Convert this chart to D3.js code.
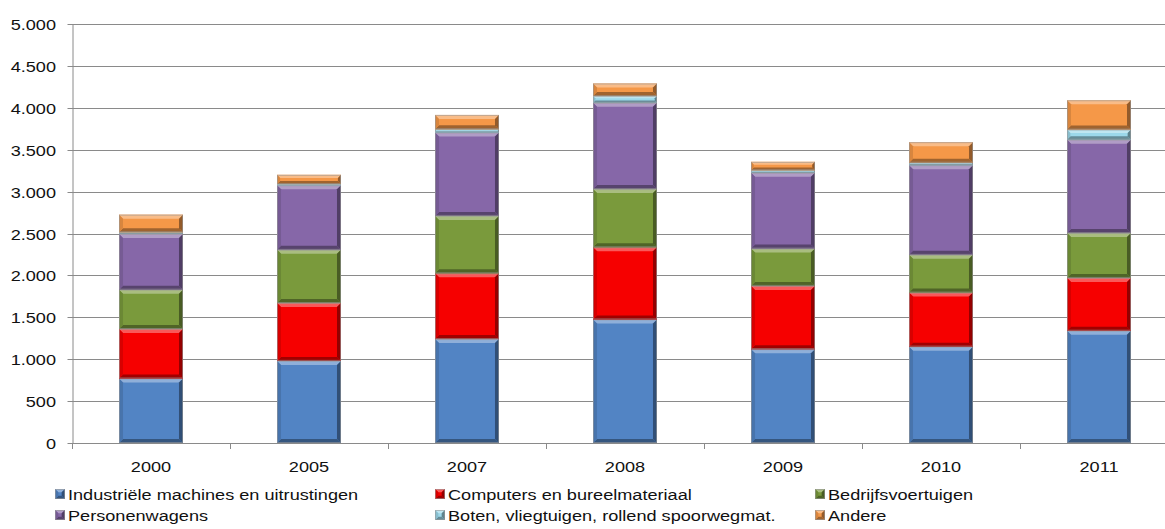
<!DOCTYPE html>
<html>
<head>
<meta charset="utf-8">
<script src="https://cdn.jsdelivr.net/npm/d3@7"></script>
<style>
  html, body { margin: 0; padding: 0; background: #ffffff; }
  svg { display: block; }
  svg text { font-family: "Liberation Sans", Arial, sans-serif; font-weight: normal; }
</style>
</head>
<body>
<svg id="chart" width="1165" height="529"></svg>
<script>
// Investeringen per jaar, opgesplitst naar type goed
const years = ["2000", "2005", "2007", "2008", "2009", "2010", "2011"];
const industrie   = [770, 980, 1240, 1475, 1120, 1150, 1340];
const computers   = [590, 690, 785, 860, 755, 645, 630];
const bedrijfsvt  = [470, 635, 685, 695, 445, 450, 535];
const personenw   = [665, 770, 995, 1030, 905, 1070, 1115];
const boten       = [20, 15, 40, 80, 30, 30, 120];
const andere      = [210, 110, 170, 150, 100, 245, 350];
const seriesNames = [
  "Industriële machines en uitrustingen",
  "Computers en bureelmateriaal",
  "Bedrijfsvoertuigen",
  "Personenwagens",
  "Boten, vliegtuigen, rollend spoorwegmat.",
  "Andere"
];
const seriesKeys = ["ind", "comp", "bedr", "pers", "boot", "and"];
const yTicks = [0, 500, 1000, 1500, 2000, 2500, 3000, 3500, 4000, 4500, 5000];

const colors = ["#5284C4", "#F60000", "#7A9A3C", "#8667A8", "#9CD8EA", "#F59848"];

const rows = years.map((yr, i) => ({
  year: yr, ind: industrie[i], comp: computers[i], bedr: bedrijfsvt[i],
  pers: personenw[i], boot: boten[i], and: andere[i]
}));

const svg = d3.select("#chart");
const plotLeft = 72, plotRight = 1178, plotTop = 24, plotBottom = 443;
const sx = 1.17; // horizontal text stretch
const fontSize = 15.5;
const FONT = "'Liberation Sans', Arial, sans-serif";

const x = d3.scaleBand().domain(years).range([plotLeft, plotRight])
  .paddingInner(0.595).paddingOuter(0.2975);
const y = d3.scaleLinear().domain([0, 5000]).range([plotBottom, plotTop]);

const nl = d3.formatLocale({ decimal: ",", thousands: ".", grouping: [3], currency: ["€", ""] });
const fmt = nl.format(",d");

// gridlines
svg.append("g").selectAll("line").data(yTicks).join("line")
  .attr("x1", plotLeft).attr("x2", 1165)
  .attr("y1", d => Math.round(y(d)) + 0.5).attr("y2", d => Math.round(y(d)) + 0.5)
  .attr("stroke", "#8a8a8a").attr("stroke-width", 1);

// y axis
const yAxis = svg.append("g").attr("transform", `translate(${plotLeft + 0.5},0)`)
  .call(d3.axisLeft(y).tickValues(yTicks).tickFormat(fmt).tickSize(5).tickSizeOuter(0))
  .attr("font-family", FONT).attr("font-size", fontSize);
yAxis.select(".domain").attr("stroke", "#8a8a8a");
yAxis.selectAll(".tick line").attr("stroke", "#8a8a8a");
yAxis.selectAll(".tick").attr("transform", d => `translate(0,${Math.round(y(d)) + 0.5})`);
yAxis.selectAll(".tick text")
  .attr("x", -16.5 / sx).attr("dy", "0.35em")
  .attr("transform", `scale(${sx},1)`)
  .attr("fill", "#111");

// x axis baseline and category separators
const xg = svg.append("g");
xg.append("line").attr("x1", plotLeft).attr("x2", 1165)
  .attr("y1", plotBottom + 0.5).attr("y2", plotBottom + 0.5).attr("stroke", "#8a8a8a");
const step = x.step();
const bounds = d3.range(years.length + 1).map(i => plotLeft + i * step);
xg.selectAll("line.sep").data(bounds).join("line").attr("class", "sep")
  .attr("x1", d => Math.round(d) + 0.5).attr("x2", d => Math.round(d) + 0.5)
  .attr("y1", plotBottom).attr("y2", plotBottom + 6).attr("stroke", "#8a8a8a");
const xAxis = svg.append("g").attr("transform", `translate(0,${plotBottom})`)
  .call(d3.axisBottom(x).tickSize(0).tickPadding(0))
  .attr("font-family", FONT).attr("font-size", fontSize);
xAxis.select(".domain").remove();
xAxis.selectAll(".tick text")
  .attr("y", 0).attr("dy", 0)
  .attr("transform", `translate(0,28.5) scale(${sx},1)`)
  .attr("fill", "#111");

// bevelled bar segments
function shade(c, k) {
  return k > 0 ? d3.interpolateRgb(c, "#ffffff")(k) : d3.interpolateRgb(c, "#000000")(-k);
}
function bevelRect(g, x0, y0, w, h, color) {
  const b = Math.max(0.5, Math.min(4, h / 3));
  const gg = g.append("g");
  gg.append("rect").attr("x", x0).attr("y", y0).attr("width", w).attr("height", h).attr("fill", color);
  const poly = (pts, fill) => gg.append("polygon").attr("points", pts.map(p => p.join(",")).join(" ")).attr("fill", fill);
  poly([[x0, y0], [x0 + w, y0], [x0 + w - b, y0 + b], [x0 + b, y0 + b]], shade(color, 0.35));
  poly([[x0, y0 + h], [x0 + w, y0 + h], [x0 + w - b, y0 + h - b], [x0 + b, y0 + h - b]], shade(color, -0.35));
  poly([[x0, y0], [x0 + b, y0 + b], [x0 + b, y0 + h - b], [x0, y0 + h]], shade(color, -0.12));
  poly([[x0 + w, y0], [x0 + w - b, y0 + b], [x0 + w - b, y0 + h - b], [x0 + w, y0 + h]], shade(color, -0.4));
  gg.append("rect").attr("x", x0 + 0.5).attr("y", y0 + 0.5).attr("width", w - 1).attr("height", Math.max(0, h - 1))
    .attr("fill", "none").attr("stroke", "#9a9a9a").attr("stroke-opacity", 0.6).attr("stroke-width", 1);
}

const stacked = d3.stack().keys(seriesKeys)(rows);
const barsG = svg.append("g");
stacked.forEach((layer, si) => {
  layer.forEach(seg => {
    const x0 = x(seg.data.year);
    const yTop = y(seg[1]), yBot = y(seg[0]);
    bevelRect(barsG, x0, yTop, x.bandwidth(), yBot - yTop, colors[si]);
  });
});

// legend
const legCols = [55, 435, 815];
const legRows = [494, 515];
const leg = svg.append("g").attr("font-family", FONT).attr("font-size", fontSize);
seriesNames.forEach((name, i) => {
  const cx = legCols[i % 3], cy = legRows[Math.floor(i / 3)];
  bevelRect(leg, cx, cy - 5, 10, 10, colors[i]);
  leg.append("text")
    .attr("transform", `translate(${cx + 13},${cy + 5.5}) scale(${sx},1)`)
    .attr("fill", "#111")
    .text(name);
});
</script>
</body>
</html>
